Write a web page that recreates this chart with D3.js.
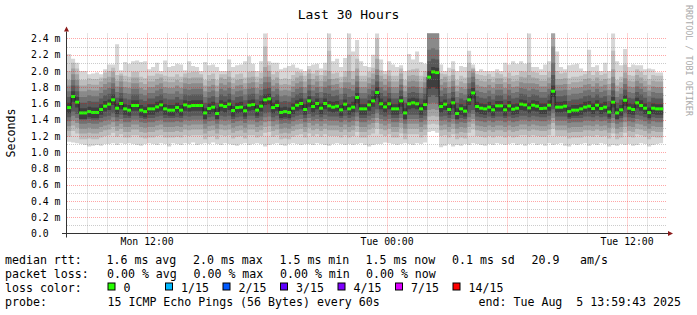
<!DOCTYPE html>
<html><head><meta charset="utf-8">
<script src="https://cdn.jsdelivr.net/npm/d3@7"></script>
<style>
html,body{margin:0;padding:0;background:#fff;}
svg{display:block;}
text{font-family:"DejaVu Sans Mono",monospace;white-space:pre;}
</style></head><body><svg id="c" width="697" height="315"></svg>
<script>
// ---- data (ms), one value per 12-minute step ----
const med = [1.550,1.686,1.616,1.484,1.484,1.500,1.490,1.490,1.526,1.567,
1.592,1.645,1.542,1.600,1.534,1.518,1.575,1.575,1.518,1.500,
1.534,1.534,1.558,1.583,1.534,1.518,1.518,1.550,1.518,1.583,
1.567,1.575,1.575,1.575,1.484,1.538,1.555,1.477,1.579,1.563,
1.592,1.514,1.550,1.555,1.510,1.579,1.587,1.518,1.567,1.645,
1.657,1.550,1.575,1.490,1.500,1.490,1.542,1.579,1.600,1.526,
1.632,1.563,1.600,1.542,1.600,1.571,1.555,1.567,1.522,1.592,
1.534,1.555,1.674,1.534,1.534,1.583,1.632,1.735,1.596,1.558,
1.596,1.534,1.534,1.632,1.484,1.596,1.608,1.596,1.534,1.587,
1.924,1.989,1.980,1.563,1.592,1.526,1.608,1.477,1.534,1.506,
1.645,1.730,1.563,1.542,1.534,1.555,1.522,1.571,1.571,1.522,
1.571,1.530,1.542,1.592,1.583,1.546,1.579,1.567,1.538,1.542,
1.579,1.751,1.555,1.555,1.567,1.500,1.518,1.518,1.534,1.555,
1.567,1.538,1.579,1.538,1.555,1.495,1.616,1.484,1.522,1.640,
1.542,1.526,1.608,1.575,1.542,1.488,1.542,1.534,1.534];
const ping15 = [2.21,2.15,2.10,2.00,2.00,1.96,1.97,1.98,1.96,2.02,
2.08,2.08,2.33,2.01,2.11,2.09,2.12,2.13,2.11,2.12,
2.02,2.05,2.10,2.00,2.13,2.05,2.06,2.09,2.08,2.01,
2.12,2.06,2.05,2.00,2.11,2.07,2.08,2.05,2.00,2.00,
2.14,2.05,2.07,2.08,2.12,2.18,2.09,2.00,2.12,2.60,
2.12,2.10,2.10,2.02,2.04,2.06,2.08,2.04,2.02,2.00,
2.06,2.08,2.09,2.03,2.10,2.60,2.12,2.15,2.05,2.16,
2.60,2.24,2.38,2.12,2.06,2.05,2.20,2.60,2.14,2.00,
2.12,2.08,2.05,2.07,2.00,2.21,2.14,2.24,2.11,2.09,
2.95,2.95,2.95,2.08,2.00,2.04,2.12,2.00,2.06,2.05,
2.25,2.08,2.00,2.02,2.00,2.00,2.00,2.02,2.00,2.10,
2.08,2.12,2.09,2.12,2.09,2.60,2.05,2.05,2.02,2.08,
2.12,2.80,2.24,2.05,2.02,2.07,2.08,2.09,2.03,2.00,
2.26,2.05,2.07,2.00,2.10,2.00,2.60,2.12,2.07,2.27,
2.05,2.08,2.07,2.07,2.02,2.03,2.02,1.98,1.98];
const ping14 = [2.00,2.10,2.03,1.89,1.89,1.91,1.90,1.90,1.92,1.98,
2.00,2.04,1.95,1.97,1.94,1.93,1.99,1.99,1.93,1.91,
1.94,1.94,1.97,1.96,1.94,1.93,1.93,1.96,1.93,1.97,
1.98,1.99,1.99,1.96,1.89,1.95,1.97,1.89,1.96,1.96,
2.00,1.92,1.96,1.97,1.92,1.99,2.00,1.93,1.98,2.30,
2.07,1.96,1.99,1.90,1.91,1.90,1.95,1.99,1.98,1.94,
2.02,1.97,2.01,1.95,2.01,2.25,1.97,1.98,1.93,2.00,
2.20,2.00,2.15,1.94,1.94,1.99,2.04,2.40,2.01,1.96,
2.01,1.94,1.94,2.03,1.89,2.01,2.02,2.03,1.94,2.00,
2.85,2.90,2.88,1.97,1.96,1.94,2.02,1.89,1.94,1.92,
2.10,2.04,1.96,1.95,1.94,1.96,1.93,1.98,1.96,1.93,
1.98,1.94,1.95,2.00,1.99,2.10,1.99,1.98,1.95,1.95,
1.99,2.70,2.00,1.97,1.98,1.91,1.93,1.93,1.94,1.96,
2.00,1.95,1.99,1.95,1.97,1.91,2.25,1.89,1.93,2.08,
1.95,1.94,2.02,1.99,1.95,1.90,1.95,1.94,1.94];
const ping13 = [1.89,2.03,1.96,1.82,1.82,1.84,1.83,1.83,1.87,1.91,
1.93,1.99,1.88,1.94,1.87,1.86,1.92,1.92,1.86,1.84,
1.87,1.87,1.90,1.92,1.87,1.86,1.86,1.89,1.86,1.92,
1.91,1.92,1.92,1.92,1.82,1.88,1.90,1.82,1.92,1.90,
1.93,1.85,1.89,1.90,1.85,1.92,1.93,1.86,1.91,2.05,
2.00,1.89,1.92,1.83,1.84,1.83,1.88,1.92,1.94,1.87,
1.97,1.90,1.94,1.88,1.94,2.00,1.90,1.91,1.86,1.93,
2.00,1.90,2.03,1.87,1.87,1.92,1.97,2.15,1.94,1.90,
1.94,1.87,1.87,1.97,1.82,1.94,1.95,1.94,1.87,1.93,
2.70,2.75,2.72,1.90,1.93,1.87,1.95,1.82,1.87,1.85,
2.00,2.02,1.90,1.88,1.87,1.90,1.86,1.91,1.91,1.86,
1.91,1.87,1.88,1.93,1.92,1.95,1.92,1.91,1.88,1.88,
1.92,2.50,1.90,1.90,1.91,1.84,1.86,1.86,1.87,1.90,
1.91,1.88,1.92,1.88,1.90,1.84,2.02,1.82,1.86,1.98,
1.88,1.87,1.95,1.92,1.88,1.83,1.88,1.87,1.87];
const ping12 = [1.82,1.96,1.89,1.75,1.75,1.77,1.76,1.76,1.80,1.84,
1.86,1.92,1.81,1.87,1.80,1.79,1.85,1.85,1.79,1.77,
1.80,1.80,1.83,1.85,1.80,1.79,1.79,1.82,1.79,1.85,
1.84,1.85,1.85,1.85,1.75,1.81,1.83,1.75,1.85,1.83,
1.86,1.78,1.82,1.83,1.78,1.85,1.86,1.79,1.84,1.93,
1.93,1.82,1.85,1.76,1.77,1.76,1.81,1.85,1.87,1.80,
1.90,1.83,1.87,1.81,1.87,1.90,1.83,1.84,1.79,1.86,
1.86,1.83,1.94,1.80,1.80,1.85,1.90,2.02,1.87,1.83,
1.87,1.80,1.80,1.90,1.75,1.87,1.88,1.87,1.80,1.86,
2.50,2.55,2.52,1.83,1.86,1.80,1.88,1.75,1.80,1.78,
1.92,1.98,1.83,1.81,1.80,1.83,1.79,1.84,1.84,1.79,
1.84,1.80,1.81,1.86,1.85,1.85,1.85,1.84,1.81,1.81,
1.85,2.30,1.83,1.83,1.84,1.77,1.79,1.79,1.80,1.83,
1.84,1.81,1.85,1.81,1.83,1.77,1.93,1.75,1.79,1.91,
1.81,1.80,1.88,1.85,1.81,1.76,1.81,1.80,1.80];
const ping11 = [1.75,1.89,1.82,1.68,1.68,1.70,1.69,1.69,1.73,1.77,
1.79,1.85,1.74,1.80,1.73,1.72,1.78,1.78,1.72,1.70,
1.73,1.73,1.76,1.78,1.73,1.72,1.72,1.75,1.72,1.78,
1.77,1.78,1.78,1.78,1.68,1.74,1.76,1.68,1.78,1.76,
1.79,1.71,1.75,1.76,1.71,1.78,1.79,1.72,1.77,1.86,
1.86,1.75,1.78,1.69,1.70,1.69,1.74,1.78,1.80,1.73,
1.83,1.76,1.80,1.74,1.80,1.82,1.76,1.77,1.72,1.79,
1.78,1.76,1.87,1.73,1.73,1.78,1.83,1.95,1.80,1.76,
1.80,1.73,1.73,1.83,1.68,1.80,1.81,1.80,1.73,1.79,
2.26,2.28,2.26,1.76,1.79,1.73,1.81,1.68,1.73,1.71,
1.85,1.93,1.76,1.74,1.73,1.76,1.72,1.77,1.77,1.72,
1.77,1.73,1.74,1.79,1.78,1.76,1.78,1.77,1.74,1.74,
1.78,2.10,1.76,1.76,1.77,1.70,1.72,1.72,1.73,1.76,
1.77,1.74,1.78,1.74,1.76,1.70,1.85,1.68,1.72,1.84,
1.74,1.73,1.81,1.78,1.74,1.69,1.74,1.73,1.73];
const ping10 = [1.68,1.82,1.75,1.61,1.61,1.63,1.62,1.62,1.66,1.70,
1.72,1.78,1.67,1.73,1.66,1.65,1.71,1.71,1.65,1.63,
1.66,1.66,1.69,1.71,1.66,1.65,1.65,1.68,1.65,1.71,
1.70,1.71,1.71,1.71,1.61,1.67,1.69,1.61,1.71,1.69,
1.72,1.64,1.68,1.69,1.64,1.71,1.72,1.65,1.70,1.78,
1.79,1.68,1.71,1.62,1.63,1.62,1.67,1.71,1.73,1.66,
1.76,1.69,1.73,1.67,1.73,1.72,1.69,1.70,1.65,1.72,
1.68,1.69,1.80,1.66,1.66,1.71,1.76,1.87,1.73,1.69,
1.73,1.66,1.66,1.76,1.61,1.73,1.74,1.73,1.66,1.72,
2.12,2.15,2.14,1.69,1.72,1.66,1.74,1.61,1.66,1.64,
1.78,1.86,1.69,1.67,1.66,1.69,1.65,1.70,1.70,1.65,
1.70,1.66,1.67,1.72,1.71,1.68,1.71,1.70,1.67,1.67,
1.71,1.95,1.69,1.69,1.70,1.63,1.65,1.65,1.66,1.69,
1.70,1.67,1.71,1.67,1.69,1.63,1.76,1.61,1.65,1.77,
1.67,1.66,1.74,1.71,1.67,1.62,1.67,1.66,1.66];
const ping9 = [1.61,1.75,1.68,1.54,1.54,1.56,1.55,1.55,1.59,1.63,
1.65,1.71,1.60,1.66,1.59,1.58,1.64,1.64,1.58,1.56,
1.59,1.59,1.62,1.64,1.59,1.58,1.58,1.61,1.58,1.64,
1.63,1.64,1.64,1.64,1.54,1.60,1.62,1.54,1.64,1.62,
1.65,1.57,1.61,1.62,1.57,1.64,1.65,1.58,1.63,1.71,
1.72,1.61,1.64,1.55,1.56,1.55,1.60,1.64,1.66,1.59,
1.69,1.62,1.66,1.60,1.66,1.63,1.62,1.63,1.58,1.65,
1.59,1.62,1.73,1.59,1.59,1.64,1.69,1.80,1.66,1.62,
1.66,1.59,1.59,1.69,1.54,1.66,1.67,1.66,1.59,1.65,
2.00,2.05,2.04,1.62,1.65,1.59,1.67,1.54,1.59,1.57,
1.71,1.79,1.62,1.60,1.59,1.62,1.58,1.63,1.63,1.58,
1.63,1.59,1.60,1.65,1.64,1.61,1.64,1.63,1.60,1.60,
1.64,1.82,1.62,1.62,1.63,1.56,1.58,1.58,1.59,1.62,
1.63,1.60,1.64,1.60,1.62,1.56,1.68,1.54,1.58,1.70,
1.60,1.59,1.67,1.64,1.60,1.55,1.60,1.59,1.59];
const ping7 = [1.48,1.62,1.55,1.41,1.41,1.43,1.42,1.42,1.46,1.50,
1.52,1.58,1.47,1.53,1.46,1.45,1.51,1.51,1.45,1.43,
1.46,1.46,1.49,1.51,1.46,1.45,1.45,1.48,1.45,1.51,
1.50,1.51,1.51,1.51,1.41,1.47,1.49,1.41,1.51,1.49,
1.52,1.44,1.48,1.49,1.44,1.51,1.52,1.45,1.50,1.58,
1.59,1.48,1.51,1.42,1.43,1.42,1.47,1.51,1.53,1.46,
1.56,1.49,1.53,1.47,1.53,1.50,1.49,1.50,1.45,1.52,
1.46,1.49,1.60,1.46,1.46,1.51,1.56,1.67,1.53,1.49,
1.53,1.46,1.46,1.56,1.41,1.53,1.54,1.53,1.46,1.52,
1.78,1.80,1.78,1.49,1.52,1.46,1.54,1.41,1.46,1.44,
1.58,1.66,1.49,1.47,1.46,1.49,1.45,1.50,1.50,1.45,
1.50,1.46,1.47,1.52,1.51,1.48,1.51,1.50,1.47,1.47,
1.51,1.68,1.49,1.49,1.50,1.43,1.45,1.45,1.46,1.49,
1.50,1.47,1.51,1.47,1.49,1.43,1.55,1.41,1.45,1.57,
1.47,1.46,1.54,1.51,1.47,1.42,1.47,1.46,1.46];
const ping6 = [1.43,1.50,1.47,1.40,1.40,1.41,1.40,1.40,1.42,1.44,
1.45,1.48,1.43,1.46,1.42,1.42,1.45,1.45,1.42,1.41,
1.42,1.42,1.44,1.45,1.42,1.42,1.42,1.43,1.42,1.45,
1.44,1.45,1.45,1.45,1.40,1.43,1.44,1.40,1.45,1.44,
1.45,1.41,1.43,1.44,1.41,1.45,1.45,1.42,1.44,1.48,
1.49,1.43,1.45,1.40,1.41,1.40,1.43,1.45,1.46,1.42,
1.47,1.44,1.46,1.43,1.46,1.44,1.44,1.44,1.42,1.45,
1.42,1.44,1.49,1.42,1.42,1.45,1.47,1.53,1.46,1.44,
1.46,1.42,1.42,1.47,1.40,1.46,1.46,1.46,1.42,1.45,
1.68,1.70,1.68,1.44,1.45,1.42,1.46,1.40,1.42,1.41,
1.48,1.52,1.44,1.43,1.42,1.44,1.42,1.44,1.44,1.42,
1.44,1.42,1.43,1.45,1.45,1.43,1.45,1.44,1.43,1.43,
1.45,1.53,1.44,1.44,1.44,1.41,1.42,1.42,1.42,1.44,
1.44,1.43,1.45,1.43,1.44,1.41,1.47,1.40,1.42,1.48,
1.43,1.42,1.46,1.45,1.43,1.40,1.43,1.42,1.42];
const ping5 = [1.38,1.45,1.42,1.35,1.35,1.36,1.35,1.35,1.37,1.39,
1.40,1.43,1.38,1.41,1.37,1.37,1.40,1.40,1.37,1.36,
1.37,1.37,1.39,1.40,1.37,1.37,1.37,1.38,1.37,1.40,
1.39,1.40,1.40,1.40,1.35,1.38,1.39,1.35,1.40,1.39,
1.40,1.36,1.38,1.39,1.36,1.40,1.40,1.37,1.39,1.43,
1.44,1.38,1.40,1.35,1.36,1.35,1.38,1.40,1.41,1.37,
1.42,1.39,1.41,1.38,1.41,1.39,1.39,1.39,1.37,1.40,
1.37,1.39,1.44,1.37,1.37,1.40,1.42,1.48,1.41,1.39,
1.41,1.37,1.37,1.42,1.35,1.41,1.41,1.41,1.37,1.40,
1.60,1.61,1.60,1.39,1.40,1.37,1.41,1.35,1.37,1.36,
1.43,1.47,1.39,1.38,1.37,1.39,1.37,1.39,1.39,1.37,
1.39,1.37,1.38,1.40,1.40,1.38,1.40,1.39,1.38,1.38,
1.40,1.48,1.39,1.39,1.39,1.36,1.37,1.37,1.37,1.39,
1.39,1.38,1.40,1.38,1.39,1.36,1.42,1.35,1.37,1.43,
1.38,1.37,1.41,1.40,1.38,1.35,1.38,1.37,1.37];
const ping4 = [1.32,1.39,1.36,1.29,1.29,1.30,1.29,1.29,1.31,1.33,
1.34,1.37,1.32,1.35,1.31,1.31,1.34,1.34,1.31,1.30,
1.31,1.31,1.33,1.34,1.31,1.31,1.31,1.32,1.31,1.34,
1.33,1.34,1.34,1.34,1.29,1.32,1.33,1.29,1.34,1.33,
1.34,1.30,1.32,1.33,1.30,1.34,1.34,1.31,1.33,1.37,
1.38,1.32,1.34,1.29,1.30,1.29,1.32,1.34,1.35,1.31,
1.36,1.33,1.35,1.32,1.35,1.33,1.33,1.33,1.31,1.34,
1.31,1.33,1.38,1.31,1.31,1.34,1.36,1.42,1.35,1.33,
1.35,1.31,1.31,1.36,1.29,1.35,1.35,1.35,1.31,1.34,
1.52,1.53,1.52,1.33,1.34,1.31,1.35,1.29,1.31,1.30,
1.37,1.41,1.33,1.32,1.31,1.33,1.31,1.33,1.33,1.31,
1.33,1.31,1.32,1.34,1.34,1.32,1.34,1.33,1.32,1.32,
1.34,1.42,1.33,1.33,1.33,1.30,1.31,1.31,1.31,1.33,
1.33,1.32,1.34,1.32,1.33,1.30,1.36,1.29,1.31,1.37,
1.32,1.31,1.35,1.34,1.32,1.29,1.32,1.31,1.31];
const ping3 = [1.26,1.33,1.30,1.23,1.23,1.24,1.23,1.23,1.25,1.27,
1.28,1.31,1.26,1.29,1.25,1.25,1.28,1.28,1.25,1.24,
1.25,1.25,1.27,1.28,1.25,1.25,1.25,1.26,1.25,1.28,
1.27,1.28,1.28,1.28,1.23,1.26,1.27,1.23,1.28,1.27,
1.28,1.24,1.26,1.27,1.24,1.28,1.28,1.25,1.27,1.31,
1.32,1.26,1.28,1.23,1.24,1.23,1.26,1.28,1.29,1.25,
1.30,1.27,1.29,1.26,1.29,1.27,1.27,1.27,1.25,1.28,
1.25,1.27,1.32,1.25,1.25,1.28,1.30,1.36,1.29,1.27,
1.29,1.25,1.25,1.30,1.23,1.29,1.29,1.29,1.25,1.28,
1.44,1.45,1.44,1.27,1.28,1.25,1.29,1.23,1.25,1.24,
1.31,1.35,1.27,1.26,1.25,1.27,1.25,1.27,1.27,1.25,
1.27,1.25,1.26,1.28,1.28,1.26,1.28,1.27,1.26,1.26,
1.28,1.36,1.27,1.27,1.27,1.24,1.25,1.25,1.25,1.27,
1.27,1.26,1.28,1.26,1.27,1.24,1.30,1.23,1.25,1.31,
1.26,1.25,1.29,1.28,1.26,1.23,1.26,1.25,1.25];
const ping2 = [1.19,1.26,1.23,1.16,1.16,1.17,1.16,1.16,1.18,1.20,
1.21,1.24,1.19,1.22,1.18,1.18,1.21,1.21,1.18,1.17,
1.18,1.18,1.20,1.21,1.18,1.18,1.18,1.19,1.18,1.21,
1.20,1.21,1.21,1.21,1.16,1.19,1.20,1.16,1.21,1.20,
1.21,1.17,1.19,1.20,1.17,1.21,1.21,1.18,1.20,1.24,
1.25,1.19,1.21,1.16,1.17,1.16,1.19,1.21,1.22,1.18,
1.23,1.20,1.22,1.19,1.22,1.20,1.20,1.20,1.18,1.21,
1.18,1.20,1.25,1.18,1.18,1.21,1.23,1.29,1.22,1.20,
1.22,1.18,1.18,1.23,1.16,1.22,1.22,1.22,1.18,1.21,
1.34,1.35,1.34,1.20,1.21,1.18,1.22,1.16,1.18,1.17,
1.24,1.28,1.20,1.19,1.18,1.20,1.18,1.20,1.20,1.18,
1.20,1.18,1.19,1.21,1.21,1.19,1.21,1.20,1.19,1.19,
1.21,1.29,1.20,1.20,1.20,1.17,1.18,1.18,1.18,1.20,
1.20,1.19,1.21,1.19,1.20,1.17,1.23,1.16,1.18,1.24,
1.19,1.18,1.22,1.21,1.19,1.16,1.19,1.18,1.18];
const ping1 = [1.13,1.12,1.11,1.10,1.09,1.07,1.08,1.09,1.08,1.10,
1.10,1.11,1.09,1.11,1.10,1.11,1.10,1.09,1.08,1.10,
1.11,1.10,1.09,1.11,1.10,1.07,1.11,1.10,1.09,1.11,
1.10,1.12,1.09,1.10,1.11,1.10,1.12,1.10,1.09,1.11,
1.10,1.09,1.08,1.10,1.11,1.09,1.10,1.11,1.10,1.07,
1.09,1.10,1.11,1.09,1.08,1.10,1.11,1.10,1.09,1.10,
1.10,1.09,1.11,1.10,1.09,1.08,1.10,1.11,1.10,1.09,
1.10,1.09,1.10,1.11,1.09,1.07,1.09,1.10,1.10,1.12,
1.11,1.10,1.09,1.10,1.11,1.10,1.09,1.11,1.10,1.12,
1.25,1.26,1.24,1.06,1.08,1.10,1.07,1.09,1.08,1.10,
1.09,1.11,1.10,1.09,1.08,1.10,1.09,1.11,1.10,1.09,
1.10,1.11,1.09,1.10,1.08,1.10,1.11,1.09,1.10,1.08,
1.11,1.09,1.10,1.11,1.08,1.07,1.10,1.09,1.10,1.11,
1.08,1.10,1.09,1.11,1.10,1.07,1.09,1.08,1.10,1.09,
1.10,1.08,1.09,1.11,1.10,1.07,1.09,1.10,1.11];

const yMajorTicks = [0,0.2,0.4,0.6,0.8,1.0,1.2,1.4,1.6,1.8,2.0,2.2,2.4];
const yMinorTicks = [0.1,0.3,0.5,0.7,0.9,1.1,1.3,1.5,1.7,1.9,2.1,2.3];
const lossLabels = ["0","1/15","2/15","3/15","4/15","7/15","14/15"];
const lossColors = ["#26ff00","#00b8ff","#0059ff","#5e00ff","#7e00ff","#dd00ff","#ff0000"];
const rttStats = ["1.6 ms avg","2.0 ms max","1.5 ms min","1.5 ms now","0.1 ms sd"];
const lossStats = ["0.00 % avg","0.00 % max","0.00 % min","0.00 % now"];
const smokeGrays = ["#d6d6d6","#bdbdbd","#a4a4a4","#8a8a8a","#717171","#585858","#3e3e3e"];

const firstStep = Date.UTC(2025,7,4,8,0,0);
const stepMs = 12*60*1000;
const tStart = new Date(Date.UTC(2025,7,4,7,59,43));
const tEnd = new Date(Date.UTC(2025,7,5,13,59,43));
const yTop = 2.4615;

// ---- layout ----
const L = 67, R = 667, T = 33.5, B = 233.5;
const svg = d3.select("#c");
svg.append("rect").attr("width",697).attr("height",315).attr("fill","#fff");

const x = d3.scaleUtc().domain([tStart,tEnd]).range([L,R]);
const y = d3.scaleLinear().domain([0,yTop]).range([B,T]);

const n = med.length;
const idx = d3.range(n+1);
const tOf = i => new Date(firstStep + i*stepMs);
const v = (arr,i) => arr[Math.min(i,n-1)];

svg.append("clipPath").attr("id","pc").append("rect")
  .attr("x",L).attr("y",T).attr("width",R-L).attr("height",B-T);
const plot = svg.append("g").attr("clip-path","url(#pc)");

const bands = [[ping1,ping15],[ping2,ping14],[ping3,ping13],[ping4,ping12],[ping5,ping11],[ping6,ping10],[ping7,ping9]];
bands.forEach(([lo,hi],k)=>{
  const area = d3.area().curve(d3.curveStepAfter)
    .x(i=>x(tOf(i))).y0(i=>y(v(lo,i))).y1(i=>y(v(hi,i)));
  plot.append("path").attr("d",area(idx)).attr("fill",smokeGrays[k]);
});

const medLine = d3.line().curve(d3.curveStepAfter).x(i=>x(tOf(i))).y(i=>y(v(med,i)));
plot.append("path").attr("d",medLine(idx)).attr("fill","none").attr("stroke","#202020").attr("stroke-width",1);
plot.selectAll("rect.m").data(d3.range(n)).join("rect")
  .attr("x",i=>x(tOf(i))).attr("width",i=>x(tOf(i+1))-x(tOf(i)))
  .attr("y",i=>y(med[i])-1.5).attr("height",3).attr("fill",lossColors[0]);

// ---- grid ----
const grid = svg.append("g");
const minorCol = "rgba(128,128,128,0.4)", majorCol = "rgba(255,0,0,0.35)";
const hLine = (val,col)=>grid.append("line").attr("x1",L).attr("x2",R)
  .attr("y1",Math.round(y(val))+0.5).attr("y2",Math.round(y(val))+0.5)
  .attr("stroke",col).attr("stroke-dasharray","1,1");
yMinorTicks.forEach(t=>hLine(t,minorCol));
yMajorTicks.filter(t=>t>0).forEach(t=>hLine(t,majorCol));
const vLine = (d,col)=>grid.append("line").attr("y1",T).attr("y2",B)
  .attr("x1",Math.round(x(d))+0.5).attr("x2",Math.round(x(d))+0.5)
  .attr("stroke",col).attr("stroke-dasharray","1,1");
const hours = d3.utcHour.range(tStart,tEnd).filter(d=>x(d)>L+1);
hours.filter(d=>d.getUTCHours()%6!==0).forEach(d=>vLine(d,minorCol));
hours.filter(d=>d.getUTCHours()%6===0).forEach(d=>vLine(d,majorCol));

// ---- axes ----
svg.append("line").attr("x1",62).attr("x2",R+2).attr("y1",B).attr("y2",B).attr("stroke","#333");
svg.append("line").attr("x1",L-0.5).attr("x2",L-0.5).attr("y1",B+4).attr("y2",T-2).attr("stroke","#333");
svg.append("path").attr("d",`M${L-3},${T-2}L${L-0.5},${T-7}L${L+2},${T-2}Z`).attr("fill","#8b1a1a");
svg.append("path").attr("d",`M${R+1},${B-2.5}L${R+6},${B}L${R+1},${B+2.5}Z`).attr("fill","#8b1a1a");

const axf = "9.8px";
yMajorTicks.forEach(t=>{
  svg.append("text").attr("x",31).attr("y",y(t)).attr("dy","0.36em")
    .attr("font-size",axf).attr("fill","#000")
    .text(t===0 ? "0.0" : d3.format(".1f")(t)+" m");
});
const xLabelTimes = d3.utcHour.every(12).range(tStart,tEnd);
xLabelTimes.forEach(d=>{
  svg.append("text").attr("x",x(d)).attr("y",245).attr("text-anchor","middle")
    .attr("font-size",axf).text(d3.utcFormat("%a %H:%M")(d));
});

// ---- titles ----
svg.append("text").attr("x",348.5).attr("y",18.5).attr("text-anchor","middle")
  .attr("font-size","13px").text("Last 30 Hours");
svg.append("text").attr("transform","translate(15,133) rotate(-90)").attr("text-anchor","middle")
  .attr("font-size","11.6px").text("Seconds");
svg.append("text").attr("transform","translate(686,5) rotate(90)")
  .attr("font-size","8.4px").attr("fill","#aaaaaa").text("RRDTOOL / TOBI OETIKER");

// ---- legend ----
const lf = "11.6px";
const lt = (xx,yy,s)=>svg.append("text").attr("x",xx).attr("y",yy).attr("font-size",lf).text(s);
const rows = [263.5,277.5,291.5,305.8];
const colX = [106.5,193,279.5,365.5,452];
const labelX = 5;
lt(labelX,rows[0],"median rtt:");
rttStats.forEach((s,i)=>lt(colX[i],rows[0],s));
lt(531.5,rows[0],"20.9");
lt(580,rows[0],"am/s");
lt(labelX,rows[1],"packet loss:");
lossStats.forEach((s,i)=>lt(colX[i]+0.5,rows[1],s));
lt(labelX,rows[2],"loss color:");
lossLabels.forEach((s,i)=>{
  const bx = 107.5 + i*57.5;
  svg.append("rect").attr("x",bx+0.5).attr("y",rows[2]-8.5).attr("width",7).attr("height",7)
    .attr("fill",lossColors[i]).attr("stroke","#000").attr("stroke-width",1);
  lt(bx+16,rows[2],s);
});
lt(labelX,rows[3],"probe:");
lt(107.5,rows[3],"15 ICMP Echo Pings (56 Bytes) every 60s");
svg.append("text").attr("x",681).attr("y",rows[3]).attr("text-anchor","end")
  .attr("font-size",lf).text("end: Tue Aug  5 13:59:43 2025");
</script></body></html>
